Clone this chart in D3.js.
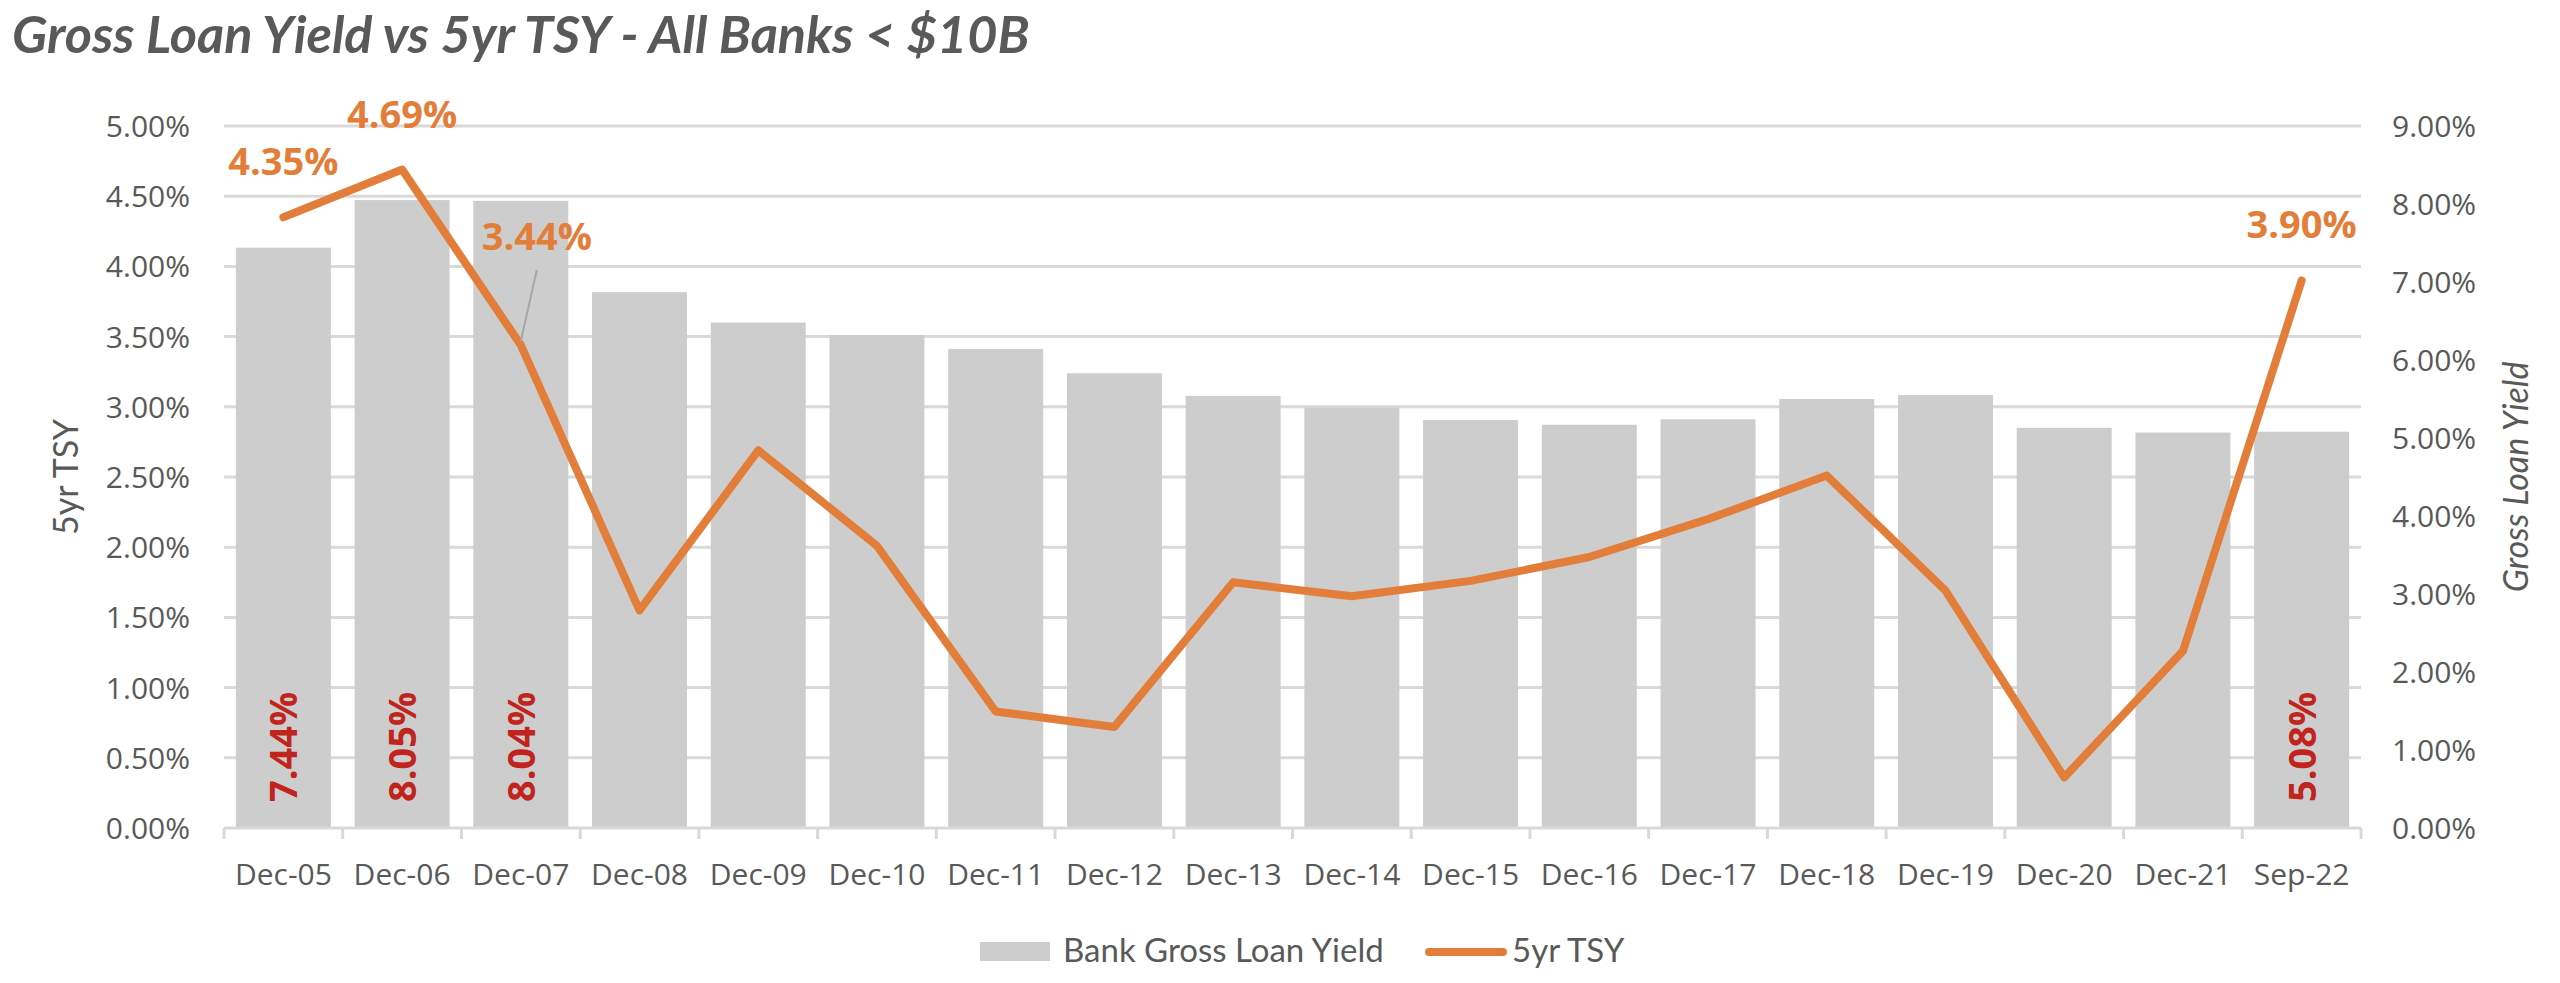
<!DOCTYPE html>
<html>
<head>
<meta charset="utf-8">
<script src="https://cdn.jsdelivr.net/npm/d3@7"></script>
<style>
  html, body { margin: 0; padding: 0; background: #ffffff; }
  svg { display: block; }
</style>
</head>
<body>
<svg id="chart" width="2560" height="983"></svg>
<script>
// ---------------- DATA ----------------
const categories = ["Dec-05","Dec-06","Dec-07","Dec-08","Dec-09","Dec-10","Dec-11","Dec-12","Dec-13",
                    "Dec-14","Dec-15","Dec-16","Dec-17","Dec-18","Dec-19","Dec-20","Dec-21","Sep-22"];
const loanYield = [7.44, 8.05, 8.04, 6.87, 6.48, 6.32, 6.14, 5.83, 5.54,
                   5.39, 5.23, 5.17, 5.24, 5.50, 5.55, 5.13, 5.07, 5.08];
const tsy5yr = [4.35, 4.69, 3.44, 1.55, 2.69, 2.01, 0.83, 0.72, 1.75,
                1.65, 1.76, 1.93, 2.20, 2.51, 1.69, 0.36, 1.26, 3.90];
const leftTicks = [0, 0.5, 1, 1.5, 2, 2.5, 3, 3.5, 4, 4.5, 5];
const rightTicks = [0, 1, 2, 3, 4, 5, 6, 7, 8, 9];
const yieldLabelIdx = [0, 1, 2, 17];   // bars with red labels
const tsyLabelIdx = [0, 1, 2, 17];     // line points with orange labels
const titleText = "Gross Loan Yield vs 5yr TSY - All Banks < $10B";
const leftTitle = "5yr TSY";
const rightTitle = "Gross Loan Yield";
const legendBar = "Bank Gross Loan Yield";
const legendLine = "5yr TSY";

// ---------------- LAYOUT ----------------
const plot = { left: 224, right: 2361, top: 126, bottom: 828 };
const C = {
  text: "#595959", grid: "#D9D9D9", bar: "#CDCDCD",
  line: "#E37E3A", label: "#E37E3A", red: "#C0241C", leader: "#A6A6A6"
};
const svg = d3.select("#chart");

const x = d3.scaleBand().domain(categories).range([plot.left, plot.right])
  .paddingInner(0.2).paddingOuter(0.1);
const yL = d3.scaleLinear().domain([0, 5]).range([plot.bottom, plot.top]);
const yR = d3.scaleLinear().domain([0, 9]).range([plot.bottom, plot.top]);
const pct = d3.format(".2f");
const cx = c => x(c) + x.bandwidth() / 2;

// title
svg.append("text")
  .attr("x", 12).attr("y", 53)
  .attr("font-family", "Lato, 'Open Sans', sans-serif")
  .attr("font-weight", 700).attr("font-style", "italic")
  .attr("font-size", 46).attr("fill", C.text)
  .text(titleText)
  .each(function () {
    const w = this.getComputedTextLength();
    const fs = 46 * 1018 / w;
    d3.select(this).attr("font-size", fs);
  });

// gridlines (left axis)
svg.append("g").selectAll("line").data(leftTicks.filter(d => d > 0)).join("line")
  .attr("x1", plot.left).attr("x2", plot.right)
  .attr("y1", d => yL(d)).attr("y2", d => yL(d))
  .attr("stroke", C.grid).attr("stroke-width", 3);

// left axis
const axL = svg.append("g").attr("transform", `translate(${plot.left - 34},0)`)
  .call(d3.axisLeft(yL).tickValues(leftTicks).tickSize(0).tickPadding(0).tickFormat(d => pct(d) + "%"));
axL.select(".domain").remove();
axL.selectAll("text").attr("font-family", "'Open Sans', sans-serif").attr("font-size", 30)
  .attr("fill", C.text).attr("dy", "0.35em");

// right axis
const axR = svg.append("g").attr("transform", `translate(${plot.right + 31},0)`)
  .call(d3.axisRight(yR).tickValues(rightTicks).tickSize(0).tickPadding(0).tickFormat(d => pct(d) + "%"));
axR.select(".domain").remove();
axR.selectAll("text").attr("font-family", "'Open Sans', sans-serif").attr("font-size", 30)
  .attr("fill", C.text).attr("dy", "0.35em");

// bars
svg.append("g").selectAll("rect").data(categories).join("rect")
  .attr("x", d => x(d)).attr("width", x.bandwidth())
  .attr("y", (d, i) => yR(loanYield[i]))
  .attr("height", (d, i) => yR(0) - yR(loanYield[i]))
  .attr("fill", C.bar);

// x axis
const axX = svg.append("g").attr("transform", `translate(0,${plot.bottom})`)
  .call(d3.axisBottom(x).tickSize(0).tickPadding(36));
axX.select(".domain").attr("stroke", C.grid).attr("stroke-width", 3)
  .attr("d", `M${plot.left},0H${plot.right}`);
axX.selectAll("text").attr("font-family", "'Open Sans', sans-serif").attr("font-size", 30)
  .attr("fill", C.text).attr("dy", "0.71em");
// category boundary ticks
const step = x.step();
svg.append("g").selectAll("line").data(d3.range(categories.length + 1)).join("line")
  .attr("x1", i => plot.left + i * step).attr("x2", i => plot.left + i * step)
  .attr("y1", plot.bottom).attr("y2", plot.bottom + 11)
  .attr("stroke", C.grid).attr("stroke-width", 3);

// line
const line = d3.line().x((d, i) => cx(categories[i])).y(d => yL(d));
svg.append("path").datum(tsy5yr)
  .attr("d", line).attr("fill", "none")
  .attr("stroke", C.line).attr("stroke-width", 8)
  .attr("stroke-linejoin", "round").attr("stroke-linecap", "round");

// red bar labels (rotated, inside base)
svg.append("g").selectAll("text").data(yieldLabelIdx).join("text")
  .attr("transform", i => `translate(${cx(categories[i]) + 14},${plot.bottom - 26}) rotate(-90)`)
  .attr("font-family", "'Open Sans', sans-serif").attr("font-weight", 700)
  .attr("font-size", 38).attr("fill", C.red)
  .text(i => pct(loanYield[i]) + "%");

// orange line labels
const labelOffset = { 2: { dx: 16, dy: -95, leader: true } };
svg.append("g").selectAll("g").data(tsyLabelIdx).join("g").each(function (i) {
  const g = d3.select(this);
  const px = cx(categories[i]), py = yL(tsy5yr[i]);
  const o = labelOffset[i] || { dx: 0, dy: -42 };
  if (o.leader) {
    g.append("line").attr("x1", px).attr("y1", py - 4)
      .attr("x2", px + o.dx).attr("y2", py + o.dy + 20)
      .attr("stroke", C.leader).attr("stroke-width", 2);
  }
  g.append("text").attr("x", px + o.dx).attr("y", py + o.dy)
    .attr("text-anchor", "middle")
    .attr("font-family", "'Open Sans', sans-serif").attr("font-weight", 700)
    .attr("font-size", 38).attr("fill", C.label)
    .text(pct(tsy5yr[i]) + "%");
});

// axis titles
svg.append("text")
  .attr("transform", `translate(78,${(plot.top + plot.bottom) / 2}) rotate(-90)`)
  .attr("text-anchor", "middle")
  .attr("font-family", "Lato, 'Open Sans', sans-serif").attr("font-size", 34)
  .attr("fill", C.text).text(leftTitle);
svg.append("text")
  .attr("transform", `translate(2528,${(plot.top + plot.bottom) / 2}) rotate(-90)`)
  .attr("text-anchor", "middle")
  .attr("font-family", "Lato, 'Open Sans', sans-serif").attr("font-style", "italic").attr("font-size", 34)
  .attr("fill", C.text).text(rightTitle);

// legend
const lg = svg.append("g");
lg.append("rect").attr("x", 980).attr("y", 942).attr("width", 70).attr("height", 19).attr("fill", C.bar);
lg.append("text").attr("x", 1063).attr("y", 962)
  .attr("font-family", "Lato, 'Open Sans', sans-serif").attr("font-size", 33).attr("fill", C.text)
  .text(legendBar);
lg.append("line").attr("x1", 1429).attr("x2", 1503).attr("y1", 952).attr("y2", 952)
  .attr("stroke", C.line).attr("stroke-width", 8).attr("stroke-linecap", "round");
lg.append("text").attr("x", 1512).attr("y", 962)
  .attr("font-family", "Lato, 'Open Sans', sans-serif").attr("font-size", 33).attr("fill", C.text)
  .text(legendLine);
</script>
</body>
</html>
